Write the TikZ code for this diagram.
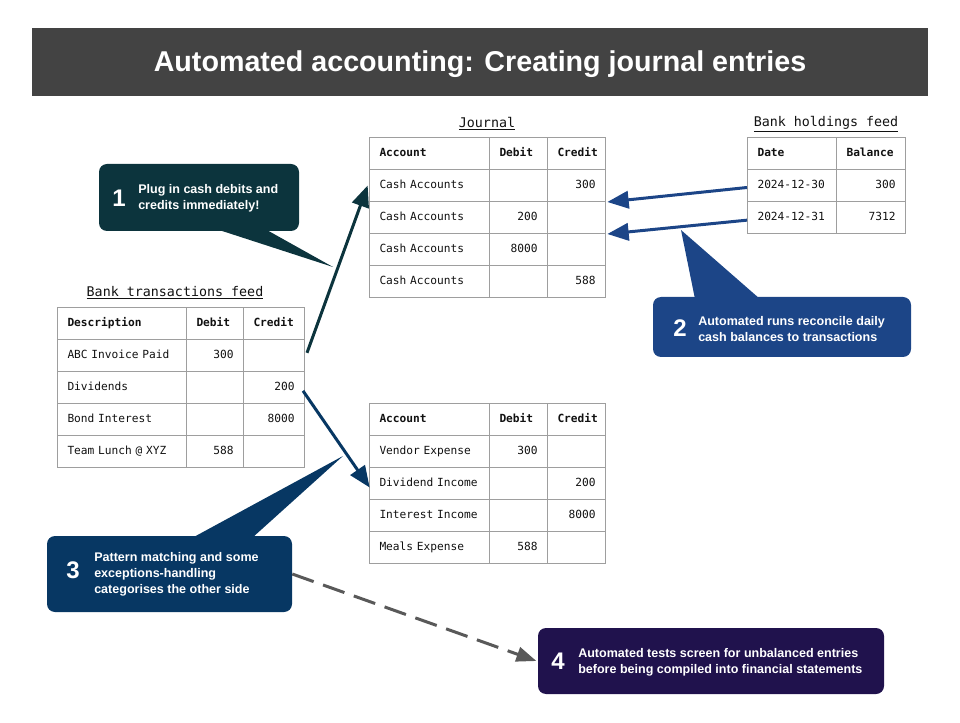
\documentclass[tikz,border=0pt]{standalone}
\usepackage{fontspec}
\setmainfont{Liberation Sans}
\newfontfamily\monof{DejaVu Sans Mono}
\usetikzlibrary{arrows.meta}
\definecolor{titlebg}{HTML}{434343}
\definecolor{gridc}{HTML}{9E9E9E}
\definecolor{cteal}{HTML}{0C343D}
\definecolor{cblue}{HTML}{1C4587}
\definecolor{cnavy}{HTML}{073763}
\definecolor{cpurple}{HTML}{20124D}
\definecolor{cdash}{HTML}{595959}
\definecolor{celltext}{HTML}{111111}
\newcommand\tc[6]{\pgfmathsetlengthmacro\tw{(#4-20)*0.75pt}%
  \node[cell, minimum width=#4*0.75pt, text width=\tw, align=#5] (#1) at (#2,#3) {#6};}
\newcommand\hb[1]{\textbf{#1}}
\begin{document}
\begin{tikzpicture}[x=0.75pt,y=-0.75pt,
  cell/.style={draw=gridc, line width=0.75pt, anchor=north west, minimum height=24pt,
    inner xsep=7.5pt, inner ysep=0pt, text height=6pt, text depth=1.6pt,
    font=\monof\fontsize{8.4}{10}\selectfont, text=celltext},
  feedlabel/.style={font=\monof\fontsize{10}{12}\selectfont, text=celltext, inner sep=0pt},
  callout/.style={rounded corners=6pt, minimum width=#1*0.75pt, inner sep=0pt},
  ctext/.style={text=white, font=\bfseries\fontsize{9.4}{12}\selectfont, align=left, anchor=west, inner sep=0pt},
  cnum/.style={text=white, font=\bfseries\fontsize{18}{20}\selectfont, inner sep=0pt},
  arr/.style={line width=2.25pt, -{Triangle[length=16pt,width=13pt]}},
]
\useasboundingbox (0,0) rectangle (960,723);
% title
\node[fill=titlebg, minimum width=672pt, minimum height=51pt, inner sep=0pt] (title) at (480,62) {};
\node[text=white, font=\bfseries\fontsize{21.5}{24}\selectfont, inner sep=0pt] (titletext) at (480,64)
  {Automated accounting: Creating journal entries};

% labels
\node[feedlabel] (ljournal) at (487,124) {\underline{Journal}};
\node[feedlabel] (lhold) at (826,124) {\underline{Bank holdings feed}};
\node[feedlabel] (ltrans) at (175,293) {\underline{Bank transactions feed}};

% Journal table (cash)
\tc{jA0}{369}{137}{120}{left}{\hb{Account}}
\tc{jD0}{489}{137}{58}{left}{\hb{Debit}}
\tc{jC0}{547}{137}{58}{left}{\hb{Credit}}
\tc{jA1}{369}{169}{120}{left}{Cash Accounts}
\tc{jD1}{489}{169}{58}{right}{}
\tc{jC1}{547}{169}{58}{right}{300}
\tc{jA2}{369}{201}{120}{left}{Cash Accounts}
\tc{jD2}{489}{201}{58}{right}{200}
\tc{jC2}{547}{201}{58}{right}{}
\tc{jA3}{369}{233}{120}{left}{Cash Accounts}
\tc{jD3}{489}{233}{58}{right}{8000}
\tc{jC3}{547}{233}{58}{right}{}
\tc{jA4}{369}{265}{120}{left}{Cash Accounts}
\tc{jD4}{489}{265}{58}{right}{}
\tc{jC4}{547}{265}{58}{right}{588}

% Bank holdings table
\tc{hD0}{747}{137}{89}{left}{\hb{Date}}
\tc{hB0}{836}{137}{69}{left}{\hb{Balance}}
\tc{hD1}{747}{169}{89}{left}{2024-12-30}
\tc{hB1}{836}{169}{69}{right}{300}
\tc{hD2}{747}{201}{89}{left}{2024-12-31}
\tc{hB2}{836}{201}{69}{right}{7312}

% Bank transactions table
\tc{bA0}{57}{307}{129}{left}{\hb{Description}}
\tc{bD0}{186}{307}{57}{left}{\hb{Debit}}
\tc{bC0}{243}{307}{61}{left}{\hb{Credit}}
\tc{bA1}{57}{339}{129}{left}{ABC Invoice Paid}
\tc{bD1}{186}{339}{57}{right}{300}
\tc{bC1}{243}{339}{61}{right}{}
\tc{bA2}{57}{371}{129}{left}{Dividends}
\tc{bD2}{186}{371}{57}{right}{}
\tc{bC2}{243}{371}{61}{right}{200}
\tc{bA3}{57}{403}{129}{left}{Bond Interest}
\tc{bD3}{186}{403}{57}{right}{}
\tc{bC3}{243}{403}{61}{right}{8000}
\tc{bA4}{57}{435}{129}{left}{Team Lunch @ XYZ}
\tc{bD4}{186}{435}{57}{right}{588}
\tc{bC4}{243}{435}{61}{right}{}

% Journal table (other side)
\tc{kA0}{369}{403}{120}{left}{\hb{Account}}
\tc{kD0}{489}{403}{58}{left}{\hb{Debit}}
\tc{kC0}{547}{403}{58}{left}{\hb{Credit}}
\tc{kA1}{369}{435}{120}{left}{Vendor Expense}
\tc{kD1}{489}{435}{58}{right}{300}
\tc{kC1}{547}{435}{58}{right}{}
\tc{kA2}{369}{467}{120}{left}{Dividend Income}
\tc{kD2}{489}{467}{58}{right}{}
\tc{kC2}{547}{467}{58}{right}{200}
\tc{kA3}{369}{499}{120}{left}{Interest Income}
\tc{kD3}{489}{499}{58}{right}{}
\tc{kC3}{547}{499}{58}{right}{8000}
\tc{kA4}{369}{531}{120}{left}{Meals Expense}
\tc{kD4}{489}{531}{58}{right}{588}
\tc{kC4}{547}{531}{58}{right}{}

% callout 1
\coordinate (p1) at (333,267);
\fill[cteal] (216,229) -- (p1) -- (265,229) -- cycle;
\node[callout=200, fill=cteal, minimum height=50.25pt] (c1) at (199,197.5) {};
\node[cnum] (n1) at (119,198) {1};
\node[ctext] (t1) at (138,198) {Plug in cash debits and\\credits immediately!};

% callout 2
\coordinate (p2) at (681,230);
\fill[cblue] (695,299) -- (p2) -- (760,299) -- cycle;
\node[callout=258, fill=cblue, minimum height=45pt] (c2) at (782,327) {};
\node[cnum] (n2) at (680,328) {2};
\node[ctext] (t2) at (698,329) {Automated runs reconcile daily\\cash balances to transactions};

% callout 3
\coordinate (p3) at (343,456);
\fill[cnavy] (192,538) -- (p3) -- (252,538) -- cycle;
\node[callout=245, fill=cnavy, minimum height=57pt] (c3) at (169.5,574) {};
\node[cnum] (n3) at (73,570) {3};
\node[ctext] (t3) at (94,574) {Pattern matching and some\\exceptions-handling\\categorises the other side};

% callout 4
\node[callout=346, fill=cpurple, minimum height=49.5pt] (c4) at (711,661) {};
\node[cnum] (n4) at (558,661) {4};
\node[ctext] (t4) at (578,662) {Automated tests screen for unbalanced entries\\before being compiled into financial statements};

% arrows
\draw[arr, cteal] ([xshift=1.5pt,yshift=2pt]bC1.east) -- ([xshift=-1pt]jA1.west);
\draw[arr, cnavy] ([xshift=-1.5pt,yshift=-2.5pt]bC2.east) -- ([xshift=0.5pt,yshift=-3pt]kA2.west);
\draw[arr, cblue] ([yshift=-1.5pt]hD1.west) -- ([xshift=1pt]jC1.south east);
\draw[arr, cblue] ([yshift=-2pt]hD2.west) -- ([xshift=1pt]jC2.south east);
\draw[cdash, line width=2.25pt, dash pattern=on 17pt off 7.5pt,
  -{Triangle[length=15pt,width=11pt]}] (c3.east) -- ([xshift=-1pt]c4.west);
\end{tikzpicture}
\end{document}
